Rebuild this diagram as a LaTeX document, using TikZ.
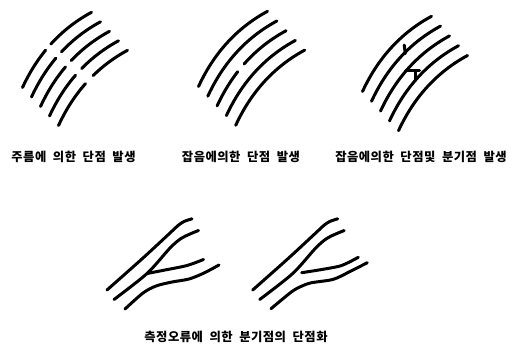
\documentclass[tikz,border=0pt]{standalone}
\usepackage{fontspec}
\newfontfamily\krfont[LetterSpace=4,WordSpace=2]{Noto Sans CJK KR}
\begin{document}
\begin{tikzpicture}[x=1pt,y=-1pt]
\tikzset{
  stroke/.style={line width=3pt, line cap=round, line join=round},
  lbl/.style={font=\krfont\bfseries\fontsize{12.3}{14}\selectfont, inner sep=0pt}
}
\useasboundingbox (0,0) rectangle (521,349);
% figure 1: breaks caused by wrinkles
\begin{scope}
  \draw[stroke, dash pattern=on 44pt off 8pt on 300pt] (22.5,87.5) .. controls (34.5,61.5) and (55,32) .. (91.5,12.3);
  \draw[stroke, shift={(9,9.5)}, dash pattern=on 46pt off 8.5pt on 300pt] (22.5,87.5) .. controls (34.5,61.5) and (55,32) .. (91.5,12.3);
  \draw[stroke, shift={(18,19)}, dash pattern=on 47pt off 8.5pt on 300pt] (22.5,87.5) .. controls (34.5,61.5) and (55,32) .. (91.5,12.3);
  \draw[stroke, shift={(27,28.5)}, dash pattern=on 48.5pt off 9pt on 300pt] (22.5,87.5) .. controls (34.5,61.5) and (55,32) .. (91.5,12.3);
  \draw[stroke, shift={(36,38)}, dash pattern=on 50pt off 11pt on 300pt] (22.5,87.5) .. controls (34.5,61.5) and (55,32) .. (91.5,12.3);
\end{scope}
% figure 2: break caused by noise
\begin{scope}[shift={(176,-1)}]
  \draw[stroke] (22.5,87.5) .. controls (34.5,61.5) and (55,32) .. (91.5,12.3);
  \draw[stroke, shift={(9.3,9.7)}] (22.5,87.5) .. controls (34.5,61.5) and (55,32) .. (91.5,12.3);
  \draw[stroke, shift={(18.6,19.4)}, dash pattern=on 40pt off 10pt on 300pt] (22.5,87.5) .. controls (34.5,61.5) and (55,32) .. (91.5,12.3);
  \draw[stroke, shift={(27.9,29.1)}] (22.5,87.5) .. controls (34.5,61.5) and (55,32) .. (91.5,12.3);
  \draw[stroke, shift={(37.2,38.8)}] (22.5,87.5) .. controls (34.5,61.5) and (55,32) .. (91.5,12.3);
\end{scope}
% figure 3: breaks and branch points caused by noise
\begin{scope}[shift={(340,4)}]
  \draw[stroke] (22.5,87.5) .. controls (34.5,61.5) and (55,32) .. (91.5,12.3);
  \draw[stroke, shift={(9,9.8)}] (22.5,87.5) .. controls (34.5,61.5) and (55,32) .. (91.5,12.3);
  \draw[stroke, shift={(18,19.6)}] (22.5,87.5) .. controls (34.5,61.5) and (55,32) .. (91.5,12.3);
  \draw[stroke, shift={(27,29.4)}] (22.5,87.5) .. controls (34.5,61.5) and (55,32) .. (91.5,12.3);
  \draw[stroke, shift={(36,39.2)}] (22.5,87.5) .. controls (34.5,61.5) and (55,32) .. (91.5,12.3);
\end{scope}
\draw[stroke] (405.3,53.5) .. controls (404.6,50) .. (404.2,45);
\draw[stroke] (405.5,70.5) -- (419.5,70.5);
\draw[stroke] (415.5,70.5) -- (415.5,79.5);
% figure 4: branch point
\draw[stroke] plot[smooth,tension=0.5] coordinates {(107,290) (143,258) (170,233) (178,225.5) (184,221.5) (192,218.8)};
\draw[stroke] plot[smooth,tension=0.5] coordinates {(114,299.5) (147,273.5) (170,248) (181,238.5) (190,234) (198.5,230.5)};
\draw[stroke] plot[smooth,tension=0.5] coordinates {(147,273.5) (165,270) (187,265.5) (203.5,259.5)};
\draw[stroke] plot[smooth,tension=0.5] coordinates {(125,309) (143,293) (156,286) (172,282) (189,279) (204,273) (219,265)};
% figure 5: branch point turned into a break
\draw[stroke] plot[smooth,tension=0.5] coordinates {(252.7,290) (288.7,258) (315.7,233) (323.7,225.5) (329.7,221.5) (337.7,218.8)};
\draw[stroke] plot[smooth,tension=0.5] coordinates {(259.7,299.5) (292.7,273.5) (315.7,248) (326.7,238.5) (335.7,234) (344.2,230.5)};
\draw[stroke] plot[smooth,tension=0.5] coordinates {(301.7,272.7) (323,269.3) (340,266) (350,261.7) (358.3,257.3)};
\draw[stroke] plot[smooth,tension=0.5] coordinates {(271,308.7) (291.7,291.7) (302,286) (311.7,282.7) (333.3,279.3) (350,271.5) (367.3,262.7)};
% labels
\node[lbl] (t1) at (73.5,157) {주름에 의한 단점 발생};
\node[lbl] (t2) at (241,157) {잡음에의한 단점 발생};
\node[lbl] (t3) at (421,157) {잡음에의한 단점및 분기점 발생};
\node[lbl] (t4) at (236,337) {측정오류에 의한 분기점의 단점화};
\end{tikzpicture}
\end{document}
